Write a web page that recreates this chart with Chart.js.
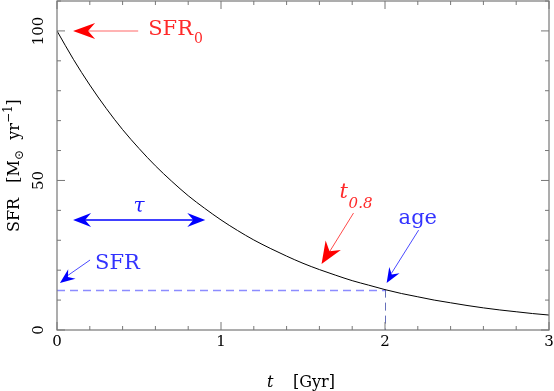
<!DOCTYPE html>
<html><head><meta charset="utf-8">
<script src="https://cdn.jsdelivr.net/npm/chart.js@4"></script>
<style>html,body{margin:0;padding:0;background:#fff;}canvas{display:block;}</style>
</head><body>
<canvas id="c" width="554" height="391"></canvas>
<script>
// ---- data ----
const tGyr = [0,0.1,0.2,0.3,0.4,0.5,0.6,0.7,0.8,0.9,1.0,1.1,1.2,1.3,1.4,1.5,1.6,1.7,1.8,1.9,2.0,2.1,2.2,2.3,2.4,2.5,2.6,2.7,2.8,2.9,3.0];
const sfr  = [100,90.5,81.9,74.1,67.0,60.7,54.9,49.7,44.9,40.7,36.8,33.3,30.1,27.3,24.7,22.3,20.2,18.3,16.5,15.0,13.5,12.2,11.1,10.0,9.1,8.2,7.4,6.7,6.1,5.5,5.0];
const xTickLabels = ['0','1','2','3'];
const xMajorTicks = [0,1,2,3];
const yTickLabels = ['0','50','100'];
const yMajorTicks = [0,50,100];
const ageGyr = 2.0;
const sfrAtAge = 13.5;
const sfr0 = 100;
const tauLevel = 36.8;

const FONT = '"DejaVu Serif", serif';

function head(ctx, tx, ty, fx, fy, len, hw, notch, color){
  const a = Math.atan2(ty-fy, tx-fx);
  const c = Math.cos(a), s = Math.sin(a);
  const bx = tx - len*c, by = ty - len*s;
  const nx = tx - notch*c, ny = ty - notch*s;
  ctx.save();
  ctx.fillStyle = color;
  ctx.beginPath();
  ctx.moveTo(tx, ty);
  ctx.lineTo(bx - hw*s, by + hw*c);
  ctx.lineTo(nx, ny);
  ctx.lineTo(bx + hw*s, by - hw*c);
  ctx.closePath();
  ctx.fill();
  ctx.restore();
}
function line(ctx, x1,y1,x2,y2,color,w,dash){
  ctx.save();
  ctx.strokeStyle=color; ctx.lineWidth=w; ctx.setLineDash(dash||[]);
  ctx.beginPath(); ctx.moveTo(x1,y1); ctx.lineTo(x2,y2); ctx.stroke();
  ctx.restore();
}

const decor = {
  id:'decor',
  beforeDatasetsDraw(chart){
    const ctx = chart.ctx, xs = chart.scales.x, ys = chart.scales.y;
    const X = v=>xs.getPixelForValue(v), Y = v=>ys.getPixelForValue(v);
    line(ctx, X(0), Math.round(Y(sfrAtAge))+0.5, X(ageGyr), Math.round(Y(sfrAtAge))+0.5, '#8c8cff', 1.5, [8,5]);
    line(ctx, X(ageGyr)+0.5, Y(sfrAtAge), X(ageGyr)+0.5, Y(0), '#6670bb', 1, [8,5]);
  },
  afterDatasetsDraw(chart){
    const ctx = chart.ctx, xs = chart.scales.x, ys = chart.scales.y, ca = chart.chartArea;
    const X = v=>xs.getPixelForValue(v), Y = v=>ys.getPixelForValue(v);
    ctx.save();
    ctx.strokeStyle = '#777'; ctx.lineWidth = 1.2;
    ctx.strokeRect(ca.left, ca.top, ca.right-ca.left, ca.bottom-ca.top);
    for (let i=0;i<=15;i++){
      const v = i*0.2, px = X(v);
      const L = (i%5===0)?8:4;
      line(ctx, px, ca.bottom, px, ca.bottom-L, '#777', 1);
      line(ctx, px, ca.top, px, ca.top+L, '#777', 1);
    }
    for (let i=0;i<=11;i++){
      const v = i*10, py = Y(v);
      const L = (i%5===0)?8:4;
      line(ctx, ca.left, py, ca.left+L, py, '#777', 1);
      line(ctx, ca.right, py, ca.right-L, py, '#777', 1);
    }
    ctx.fillStyle = '#000';
    ctx.font = '15px '+FONT;
    ctx.textAlign='center'; ctx.textBaseline='alphabetic';
    xMajorTicks.forEach((v,i)=>ctx.fillText(xTickLabels[i], X(v), ca.bottom+16));
    yMajorTicks.forEach((v,i)=>{
      ctx.save(); ctx.translate(ca.left-14, Y(v)); ctx.rotate(-Math.PI/2);
      ctx.fillText(yTickLabels[i], 0, 0); ctx.restore();
    });
    ctx.textAlign='left';
    ctx.font = 'italic 16px '+FONT;
    ctx.fillText('t', 267, 387);
    ctx.font = '16px '+FONT;
    ctx.fillText('[Gyr]', 293, 387);
    // y title (rotated)
    ctx.save(); ctx.translate(19, 232); ctx.rotate(-Math.PI/2);
    ctx.textAlign='left';
    let x=0;
    const put=(s,f,dy)=>{ctx.font=f; ctx.fillText(s,x,dy||0); x+=ctx.measureText(s).width;};
    put('SFR   [M','16px '+FONT);
    put('\u2299','12px '+FONT,4);
    put('  yr','16px '+FONT);
    put('\u22121','12px '+FONT,-7);
    put(']','16px '+FONT);
    ctx.restore();

    // SFR0 annotation (red)
    line(ctx, X(0.495), Y(sfr0), X(0.15), Y(sfr0), '#ff9a9a', 1.5);
    head(ctx, X(0.098), Y(sfr0), X(0.495), Y(sfr0), 22, 8, 15, '#ff0000');
    ctx.fillStyle='#ff2a2a'; ctx.font='21px '+FONT; ctx.textAlign='left';
    ctx.fillText('SFR', X(0.556), Y(98.7));
    ctx.font='14px '+FONT;
    ctx.fillText('0', X(0.835), Y(95.9));

    // tau double arrow (blue)
    line(ctx, X(0.15), Y(tauLevel), X(0.86), Y(tauLevel), '#0000ff', 1.6);
    head(ctx, X(0.098), Y(tauLevel), X(0.9), Y(tauLevel), 18, 7, 12, '#0000ff');
    head(ctx, X(0.904), Y(tauLevel), X(0.1), Y(tauLevel), 18, 7, 12, '#0000ff');
    ctx.fillStyle='#1a1aff'; ctx.font='italic 20px '+FONT; ctx.textAlign='center';
    ctx.fillText('\u03C4', X(0.5), Y(39.3));

    // SFR annotation (blue)
    ctx.textAlign='left';
    ctx.fillStyle='#3333ff'; ctx.font='21px '+FONT;
    ctx.fillText('SFR', X(0.232), Y(20.4));
    line(ctx, X(0.2016), Y(23.4), X(0.06), Y(18.0), '#4a4aff', 1);
    head(ctx, X(0.018), Y(15.7), X(0.2016), Y(23.4), 15, 6, 10, '#0000ff');

    // t0.8 annotation (red)
    ctx.fillStyle='#ff2a2a'; ctx.font='italic 21px '+FONT;
    ctx.fillText('t', X(1.723), Y(44.1));
    ctx.font='italic 15px '+FONT;
    ctx.fillText('0.8', X(1.778), Y(40.8));
    line(ctx, X(1.808), Y(39.1), X(1.66), Y(26.0), '#ff4a4a', 1);
    head(ctx, X(1.613), Y(22.1), X(1.808), Y(39.1), 22, 9, 15, '#ff0000');

    // age annotation (blue)
    ctx.fillStyle='#3333ff'; ctx.font='21px '+FONT;
    ctx.fillText('age', X(2.083), Y(35.5));
    line(ctx, X(2.205), Y(33.4), X(2.04), Y(19.0), '#4a4aff', 1);
    head(ctx, X(2.01), Y(15.7), X(2.205), Y(33.4), 15, 6, 10, '#0000ff');
    ctx.restore();
  }
};

new Chart(document.getElementById('c'), {
  type:'line',
  data:{ datasets:[{ data: tGyr.map((t,i)=>({x:t, y:sfr[i]})), borderColor:'#000', borderWidth:1, pointRadius:0, cubicInterpolationMode:'monotone', fill:false }]},
  options:{
    responsive:false, animation:false, devicePixelRatio:1,
    layout:{ padding:{ left:57, top:1, right:5, bottom:61 } },
    scales:{
      x:{ type:'linear', min:0, max:3, display:false },
      y:{ type:'linear', min:0, max:110, display:false }
    },
    plugins:{ legend:{display:false}, tooltip:{enabled:false} }
  },
  plugins:[decor]
});
</script>
</body></html>
